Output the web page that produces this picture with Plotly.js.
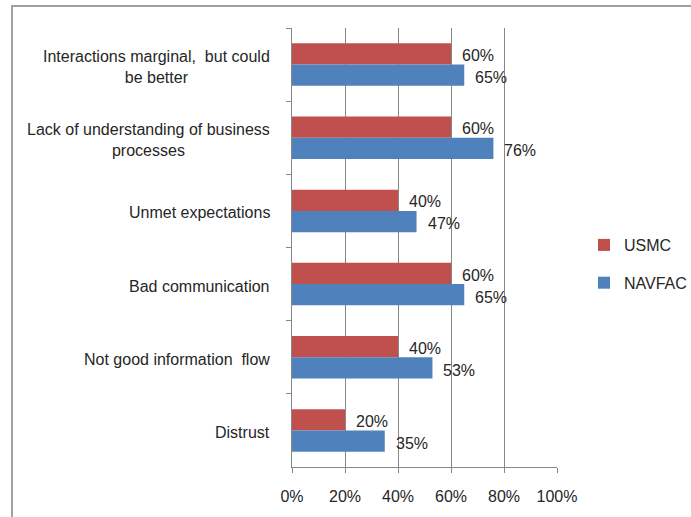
<!DOCTYPE html>
<html>
<head>
<meta charset="utf-8">
<script src="https://cdn.plot.ly/plotly-3.0.1.min.js"></script>
<style>
  html, body { margin: 0; padding: 0; background: #ffffff; }
  #chart { width: 691px; height: 517px; }
</style>
</head>
<body>
<div id="chart"></div>
<script>
// Survey categories, top to bottom
const categories = [
  "Interactions marginal,\u00a0 but could<br>be better",
  "Lack of understanding of business<br>processes",
  "Unmet expectations",
  "Bad communication",
  "Not good information\u00a0 flow",
  "Distrust"
];
// Share of respondents (%)
const seriesNames = ["USMC", "NAVFAC"];
const usmcValues = [60, 60, 40, 60, 40, 20];
const navfacValues = [65, 76, 47, 65, 53, 35];
const xTickValues = [0, 20, 40, 60, 80, 100];

const FONT = "Liberation Sans, Arial, sans-serif";
const GRID = "#878787";
const W = 691, H = 517;
const M = { l: 292, r: 134, t: 28, b: 50, autoexpand: false };

const colors = ["#C0504D", "#4F81BD"];
const seriesValues = [usmcValues, navfacValues];

const traces = seriesValues.map((vals, i) => ({
  type: "bar",
  orientation: "h",
  name: seriesNames[i],
  legendgroup: seriesNames[i],
  x: vals,
  y: categories,
  marker: { color: colors[i], line: { width: 0 } },
  hoverinfo: "skip"
}));

// Value labels just past the end of each bar
const valueLabels = [];
seriesValues.forEach((vals, i) => {
  vals.forEach((v, j) => {
    valueLabels.push({
      x: v, y: categories[j], xref: "x", yref: "y",
      text: v + "%", showarrow: false,
      xanchor: "left", yanchor: "middle",
      xshift: 9, yshift: i === 0 ? 9 : -13,
      font: { family: FONT, size: 16, color: "#262626" }
    });
  });
});

// Category names, centred text to the left of the plot
const categoryLabels = categories.map(c => ({
  x: 0, y: c, xref: "paper", yref: "y",
  text: c, showarrow: false,
  xanchor: "right", yanchor: "middle", align: "center",
  xshift: -20, yshift: -2,
  font: { family: FONT, size: 16, color: "#262626" }
}));

// Chart-area frame (left and top edges)
const pw = W - M.l - M.r, ph = H - M.t - M.b;
const px2x = p => (p - M.l) / pw;
const py2y = p => (H - M.b - p) / ph;
const frame = [
  { type: "line", xref: "paper", yref: "paper",
    x0: px2x(12), x1: px2x(12), y0: py2y(5), y1: py2y(H + 5),
    line: { color: "#a0a0a0", width: 2 } },
  { type: "line", xref: "paper", yref: "paper",
    x0: px2x(11), x1: px2x(W + 5), y0: py2y(6), y1: py2y(6),
    line: { color: "#a0a0a0", width: 2 } }
];

const layout = {
  width: W, height: H,
  margin: M,
  paper_bgcolor: "#ffffff",
  plot_bgcolor: "#ffffff",
  font: { family: FONT, size: 16, color: "#262626" },
  barmode: "group",
  bargap: 0.42,
  bargroupgap: 0,
  showlegend: true,
  legend: {
    x: px2x(584), xanchor: "left",
    y: py2y(264), yanchor: "middle",
    traceorder: "grouped",
    tracegroupgap: 14,
    bgcolor: "rgba(0,0,0,0)",
    font: { family: FONT, size: 16, color: "#262626" }
  },
  xaxis: {
    range: [0, 100],
    tickvals: xTickValues,
    ticktext: xTickValues.map(v => v + "%"),
    showgrid: true, gridcolor: GRID, gridwidth: 1,
    zeroline: false,
    showline: true, linecolor: GRID, linewidth: 1,
    ticks: "outside", ticklen: 5, tickcolor: GRID,
    ticklabelstandoff: 10,
    tickfont: { family: FONT, size: 16, color: "#262626" },
    fixedrange: true
  },
  yaxis: {
    type: "category",
    categoryarray: categories,
    range: [5.5, -0.5],
    showticklabels: false,
    tickson: "boundaries",
    ticks: "outside", ticklen: 5, tickcolor: GRID,
    showline: true, linecolor: GRID, linewidth: 1,
    showgrid: false, zeroline: false,
    fixedrange: true
  },
  annotations: categoryLabels.concat(valueLabels),
  shapes: frame
};

Plotly.newPlot("chart", traces, layout, { displayModeBar: false, staticPlot: true });
</script>
</body>
</html>
